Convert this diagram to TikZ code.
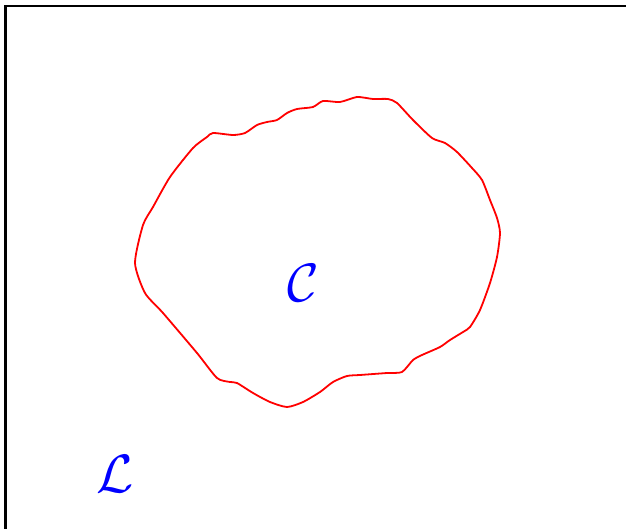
\documentclass[tikz,border=0pt]{standalone}
\begin{document}
\begin{tikzpicture}[x=1pt,y=-1pt,
  frame/.style={line width=2.5pt,black},
  blob/.style={line width=1.8pt,red,line join=round},
  lbl/.style={blue,inner sep=0pt}]
\useasboundingbox (0,0) rectangle (626,529);
\draw[frame] (5.5,529) -- (5.5,6.2) -- (626,6.2);
\draw[blob] plot[smooth cycle,tension=0.4] coordinates {
(135,263) (143,225) (153,207) (170,177) (193,148) (207,137) (213,133)
(233,135) (245,133) (257,125) (267,122) (277,120) (287,113) (297,109)
(313,107) (323,101) (340,102) (357,97) (373,99) (388,99) (397,103)
(413,120) (432,138) (445,143) (457,152) (472,168) (482,180) (490,200)
(497,218) (500,233) (497,257) (490,283) (480,310) (470,327) (463,332)
(450,340) (440,347) (422,355) (413,360) (402,372) (387,373) (360,375)
(347,376) (333,382) (320,392) (303,402) (287,407) (270,402) (253,393)
(237,383) (230,382) (217,378) (197,353) (163,313) (145,293)};
\node[lbl] (C) at (303,283) {\scalebox{5.4}{$\mathcal{C}$}};
\node[lbl] (L) at (115,474) {\scalebox{5.4}{$\mathcal{L}$}};
\end{tikzpicture}
\end{document}
